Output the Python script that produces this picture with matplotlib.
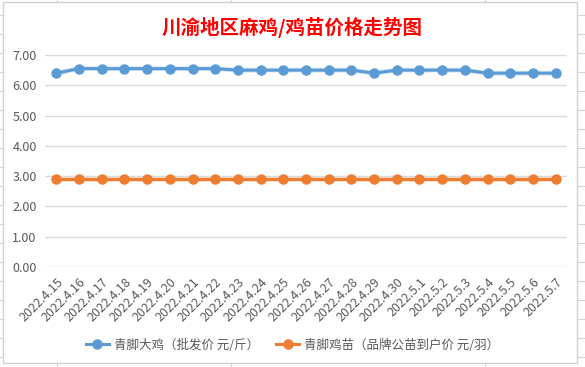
import matplotlib
matplotlib.use('Agg')
from matplotlib import pyplot as plt
from matplotlib.lines import Line2D
from matplotlib.patches import Rectangle

plt.rcParams['font.family'] = ['Noto Sans CJK SC', 'DejaVu Sans']

dates = ['2022.4.15', '2022.4.16', '2022.4.17', '2022.4.18', '2022.4.19',
         '2022.4.20', '2022.4.21', '2022.4.22', '2022.4.23', '2022.4.24',
         '2022.4.25', '2022.4.26', '2022.4.27', '2022.4.28', '2022.4.29',
         '2022.4.30', '2022.5.1', '2022.5.2', '2022.5.3', '2022.5.4',
         '2022.5.5', '2022.5.6', '2022.5.7']
big_chicken = [6.4, 6.55, 6.55, 6.55, 6.55, 6.55, 6.55, 6.55, 6.5, 6.5,
               6.5, 6.5, 6.5, 6.5, 6.4, 6.5, 6.5, 6.5, 6.5, 6.4,
               6.4, 6.4, 6.4]
chick = [2.9] * 23
y_ticks = [0, 1, 2, 3, 4, 5, 6, 7]

title = '川渝地区麻鸡/鸡苗价格走势图'
name_big = '青脚大鸡（批发价 元/斤）'
name_chick = '青脚鸡苗（品牌公苗到户价 元/羽）'

blue = '#5b9bd5'
orange = '#ed7d31'
text_gray = '#595959'

W, H = 585, 367
fig = plt.figure(figsize=(W / 100, H / 100), dpi=100)

# excel cell grid behind the chart
for yy in range(15, H, 19):
    fig.add_artist(Line2D([0, 1], [1 - yy / H] * 2, color='#d4d4dc', lw=0.8, zorder=0))
for xx in [57, 231, 485]:
    fig.add_artist(Line2D([xx / W] * 2, [0, 1], color='#d4d4dc', lw=0.8, zorder=0))
fig.add_artist(Rectangle((3 / W, 1 - 363 / H), 574 / W, 361 / H, facecolor='white',
                         edgecolor='#d0d0d8', lw=1.0, zorder=1))

ax = fig.add_axes([45 / W, 1 - 267 / H, 522 / W, 212 / H], zorder=2)
ax.set_facecolor('none')
x = list(range(len(dates)))

ax.plot(x, chick, color=orange, lw=3.5, alpha=0.25)
ax.plot(x, chick, color=orange, lw=2.2, marker='o', ms=6.5)
ax.plot(x, big_chicken, color=blue, lw=3.5, alpha=0.25)
ax.plot(x, big_chicken, color=blue, lw=2.2, marker='o', ms=6.5)

ax.set_xlim(-0.5, len(dates) - 0.5)
ax.set_ylim(0, 7)
ax.set_yticks(y_ticks)
ax.set_yticklabels([f'{v:.2f}' for v in y_ticks])
ax.set_xticks(x)
ax.set_xticklabels(dates, rotation=45, ha='right', rotation_mode='anchor')
ax.grid(axis='y', color='#d9d9d9', lw=1)
ax.set_axisbelow(True)
for s in ax.spines.values():
    s.set_visible(False)
ax.tick_params(axis='both', length=0, colors=text_gray, labelsize=9)
ax.tick_params(axis='x', pad=6)
ax.tick_params(axis='y', pad=6)

fig.text(0.5, 1 - 27 / H, title, color='red', fontsize=14, fontweight='bold',
         ha='center', va='center')

handles = [Line2D([], [], color=blue, lw=2.2, marker='o', ms=6.5),
           Line2D([], [], color=orange, lw=2.2, marker='o', ms=6.5)]
fig.legend(handles, [name_big, name_chick], loc='center', ncol=2,
           bbox_to_anchor=(0.5, 1 - 345 / H), frameon=False, fontsize=9,
           labelcolor=text_gray, handlelength=1.9, handletextpad=0.4,
           columnspacing=1.3)

fig.savefig('out.png', dpi=100)
